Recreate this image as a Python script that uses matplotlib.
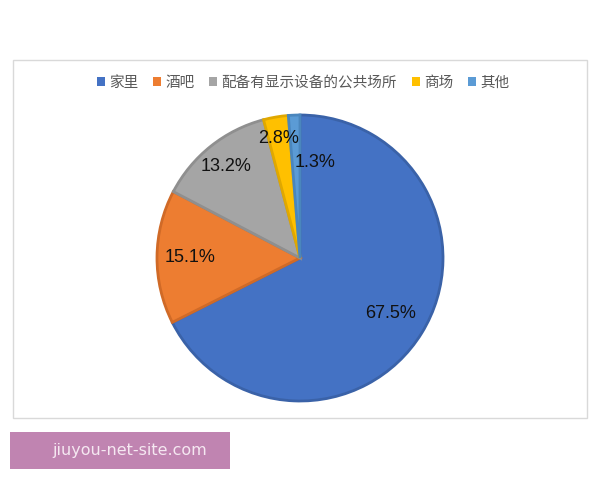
import matplotlib
matplotlib.use("Agg")
import matplotlib.pyplot as plt
from matplotlib.patches import Rectangle
import numpy as np

categories = ["家里", "酒吧", "配备有显示设备的公共场所", "商场", "其他"]
values = [67.5, 15.1, 13.2, 2.8, 1.3]
colors = ["#4472C4", "#ED7D31", "#A5A5A5", "#FFC000", "#5B9BD5"]
edges = ["#3A62A8", "#D06A27", "#8F8F8F", "#E0A800", "#4A86BD"]

plt.rcParams['font.family'] = ['Noto Sans CJK SC', 'DejaVu Sans']

fig = plt.figure(figsize=(6, 4.8), dpi=100)
fig.patch.set_facecolor("white")

# chart frame
fig.patches.append(Rectangle((13/600, 1-418/480), 574/600, 358/480, transform=fig.transFigure,
                             fill=False, edgecolor="#D9D9D9", linewidth=1.0))

ax = fig.add_axes([(300-143)/600, 1-(258+143)/480, 286/600, 286/480])
wedges, _ = ax.pie(values, colors=colors, startangle=90, counterclock=False,
                   wedgeprops=dict(linewidth=2.0))
for w, e in zip(wedges, edges):
    w.set_edgecolor(e)
ax.set_aspect("equal")
ax.set_xlim(-1, 1)
ax.set_ylim(-1, 1)

dists = [0.74, 0.77, 0.82, 0.85]
cum = 0
for i, v in enumerate(values):
    mid = np.deg2rad(90 - (cum + v / 2) * 3.6)
    cum += v
    if i < 4:
        x, y = dists[i] * np.cos(mid), dists[i] * np.sin(mid)
    else:
        x, y = 0.105, 0.665
    ax.text(x, y, f"{v}%", ha="center", va="center", fontsize=13,
            family=["Liberation Sans", "DejaVu Sans"], color="#111111")

handles = [Rectangle((0, 0), 1, 1, facecolor=c, edgecolor="none") for c in colors]
fig.legend(handles, categories, loc="center", bbox_to_anchor=(303/600, 1-83/480), ncol=5,
           frameon=False, fontsize=10.5, handlelength=0.55, handleheight=0.55,
           handletextpad=0.3, columnspacing=1.0, labelcolor="#595959")

# watermark
fig.patches.append(Rectangle((10/600, 1-469/480), 220/600, 37/480, transform=fig.transFigure,
                             facecolor="#C084B1", edgecolor="none"))
fig.text(130/600, 1-451/480, "jiuyou-net-site.com", ha="center", va="center",
         fontsize=11.5, color="#F5E8F1", family=["DejaVu Sans"])

fig.savefig("out.png", dpi=100, facecolor="white")
